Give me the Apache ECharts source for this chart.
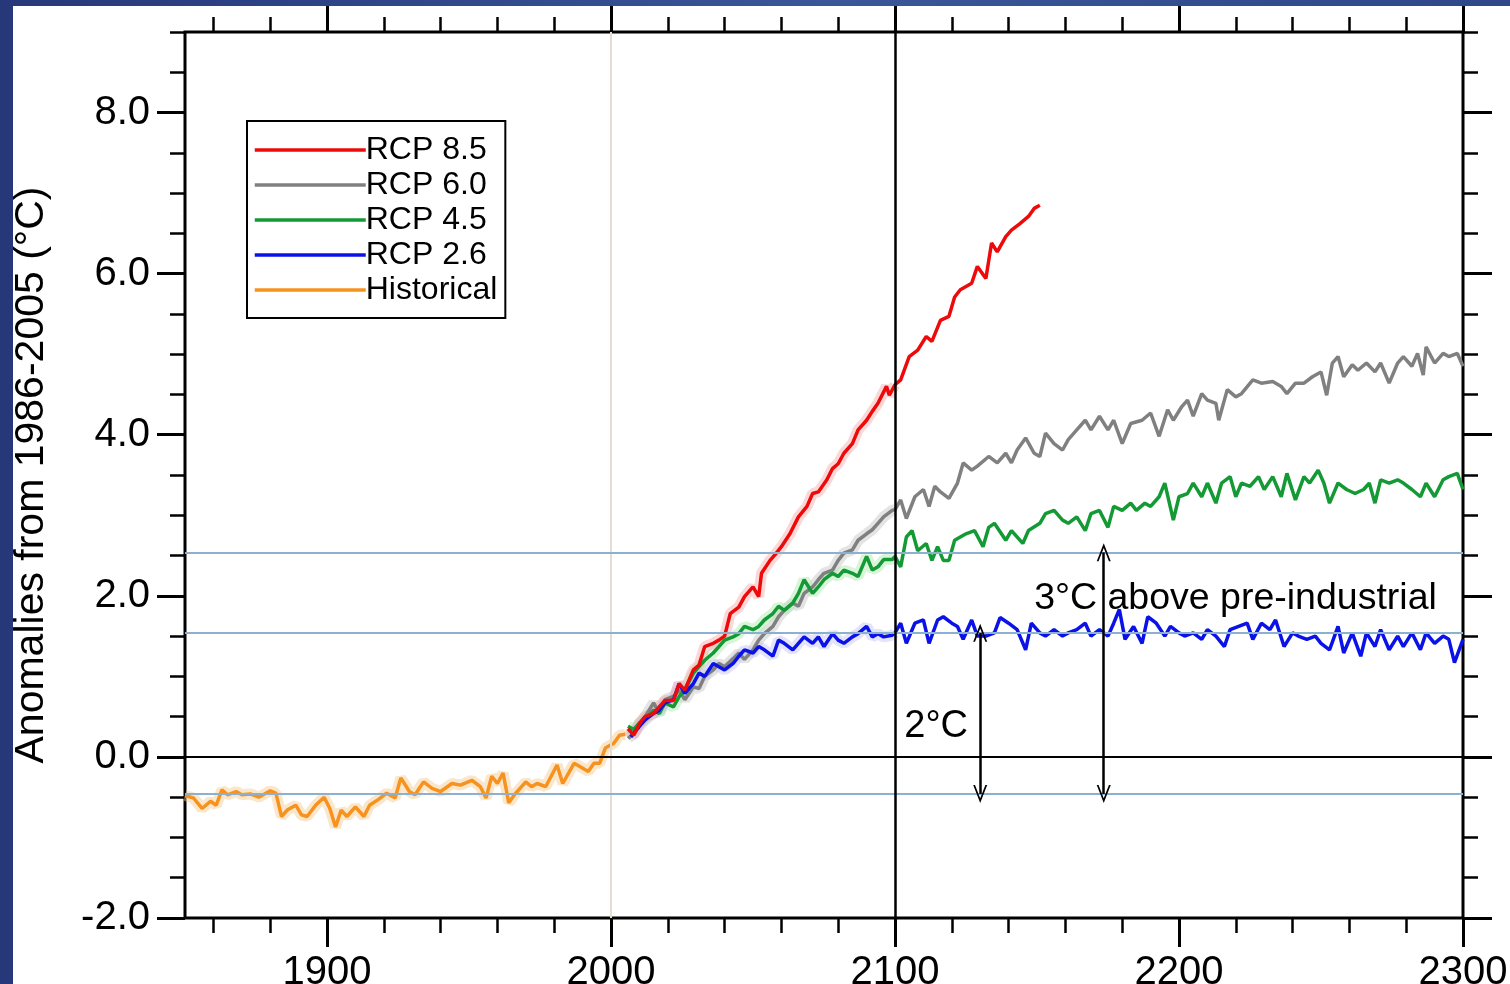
<!DOCTYPE html>
<html>
<head>
<meta charset="utf-8">
<script src="https://cdn.jsdelivr.net/npm/echarts@6.0.0/dist/echarts.min.js"></script>
<style>
    html, body {
        margin: 0; padding: 0; width: 1510px; height: 984px; overflow: hidden;
        background: linear-gradient(90deg, #26387a 0%, #3a559a 55%, #2f478a 100%);
    }
    #chart { position: absolute; left: 13px; top: 6px; width: 1497px; height: 978px; background: #fff; }
</style>
</head>
<body>
<div id="chart"></div>
<script>
// values: [year, anomaly °C]
const historical = [
    [1850,-0.48],[1853,-0.51],[1856,-0.64],[1859,-0.55],[1861,-0.60],[1863,-0.41],[1865,-0.47],[1868,-0.43],
    [1870,-0.47],[1873,-0.46],[1876,-0.50],[1880,-0.42],[1882,-0.45],[1884,-0.74],[1886,-0.66],[1889,-0.60],
    [1891,-0.72],[1893,-0.74],[1896,-0.60],[1899,-0.50],[1901,-0.64],[1903,-0.87],[1905,-0.66],[1907,-0.74],
    [1910,-0.62],[1913,-0.74],[1915,-0.60],[1918,-0.53],[1921,-0.45],[1924,-0.51],[1926,-0.26],[1929,-0.43],
    [1931,-0.47],[1934,-0.31],[1937,-0.39],[1940,-0.43],[1944,-0.33],[1947,-0.35],[1951,-0.29],[1954,-0.37],
    [1956,-0.51],[1958,-0.24],[1960,-0.33],[1962,-0.20],[1964,-0.57],[1966,-0.47],[1970,-0.31],[1972,-0.37],
    [1974,-0.33],[1977,-0.37],[1981,-0.10],[1983,-0.33],[1987,-0.08],[1989,-0.12],[1992,-0.18],[1994,-0.08],
    [1996,-0.08],[1998,0.11],[2001,0.17],[2003,0.27],[2005,0.28]
];
const rcp85 = [
    [2006,0.35],[2008,0.27],[2010,0.41],[2012,0.50],[2015,0.54],[2017,0.62],[2019,0.70],[2022,0.70],
    [2024,0.91],[2026,0.83],[2029,1.08],[2031,1.14],[2033,1.37],[2036,1.41],[2038,1.45],[2040,1.50],
    [2042,1.78],[2045,1.86],[2047,1.99],[2050,2.11],[2052,1.99],[2053,2.28],[2056,2.44],[2058,2.52],
    [2060,2.61],[2063,2.77],[2066,2.98],[2069,3.11],[2071,3.27],[2073,3.29],[2076,3.44],[2078,3.58],
    [2080,3.64],[2082,3.77],[2085,3.89],[2087,4.06],[2090,4.18],[2092,4.29],[2094,4.39],[2097,4.60],
    [2098,4.49],[2100,4.62],[2102,4.68],[2105,4.97],[2108,5.05],[2111,5.22],[2113,5.16],[2116,5.42],
    [2119,5.47],[2121,5.71],[2123,5.80],[2127,5.88],[2129,6.09],[2132,5.94],[2134,6.38],[2136,6.27],
    [2139,6.46],[2141,6.54],[2144,6.62],[2147,6.71],[2149,6.81],[2151,6.85]
];
const rcp60 = [
    [2006,0.23],[2008,0.29],[2010,0.42],[2012,0.50],[2015,0.67],[2017,0.54],[2019,0.71],[2022,0.75],
    [2024,0.83],[2026,0.71],[2029,0.87],[2031,0.85],[2033,1.00],[2036,1.08],[2038,1.16],[2040,1.12],
    [2043,1.22],[2045,1.29],[2047,1.21],[2050,1.33],[2052,1.45],[2054,1.53],[2057,1.62],[2059,1.74],
    [2061,1.82],[2064,1.91],[2066,1.87],[2068,2.03],[2071,2.11],[2073,2.20],[2075,2.28],[2078,2.32],
    [2080,2.44],[2082,2.53],[2085,2.57],[2087,2.69],[2090,2.77],[2092,2.82],[2094,2.90],[2096,2.98],
    [2099,3.06],[2100,3.07],[2102,3.19],[2104,2.96],[2107,3.23],[2110,3.32],[2112,3.11],[2114,3.36],
    [2116,3.29],[2119,3.21],[2122,3.40],[2124,3.65],[2127,3.56],[2129,3.61],[2133,3.73],[2136,3.65],
    [2139,3.77],[2141,3.65],[2143,3.81],[2146,3.96],[2149,3.77],[2151,3.73],[2153,4.02],[2156,3.89],
    [2159,3.81],[2161,3.94],[2164,4.06],[2167,4.18],[2169,4.06],[2172,4.23],[2175,4.06],[2177,4.18],
    [2180,3.89],[2183,4.14],[2187,4.18],[2190,4.27],[2193,3.98],[2196,4.31],[2198,4.18],[2201,4.35],
    [2203,4.43],[2205,4.23],[2208,4.51],[2210,4.43],[2213,4.39],[2214,4.18],[2217,4.56],[2220,4.47],
    [2222,4.51],[2226,4.68],[2229,4.64],[2233,4.66],[2236,4.60],[2238,4.51],[2241,4.64],[2244,4.64],
    [2247,4.72],[2250,4.78],[2252,4.49],[2254,4.89],[2256,4.97],[2258,4.72],[2261,4.87],[2263,4.80],
    [2266,4.89],[2269,4.78],[2271,4.89],[2274,4.64],[2277,4.89],[2279,4.97],[2282,4.85],[2284,5.01],
    [2286,4.74],[2287,5.09],[2290,4.89],[2293,5.01],[2295,4.97],[2298,5.01],[2300,4.85]
];
const rcp45 = [
    [2006,0.38],[2008,0.34],[2010,0.42],[2012,0.46],[2015,0.58],[2017,0.54],[2019,0.67],[2022,0.62],
    [2024,0.75],[2026,0.83],[2029,1.04],[2031,1.12],[2033,1.20],[2036,1.29],[2038,1.37],[2040,1.45],
    [2043,1.49],[2045,1.53],[2047,1.62],[2050,1.58],[2052,1.62],[2054,1.70],[2057,1.78],[2059,1.87],
    [2061,1.82],[2064,1.91],[2066,2.03],[2068,2.20],[2071,2.03],[2073,2.11],[2075,2.20],[2078,2.28],
    [2080,2.24],[2082,2.32],[2085,2.28],[2087,2.24],[2090,2.49],[2092,2.32],[2094,2.36],[2096,2.45],
    [2099,2.45],[2100,2.49],[2102,2.36],[2104,2.73],[2106,2.81],[2108,2.56],[2111,2.65],[2113,2.44],
    [2115,2.61],[2117,2.44],[2119,2.44],[2121,2.69],[2125,2.77],[2128,2.81],[2131,2.61],[2133,2.85],
    [2135,2.90],[2139,2.69],[2141,2.81],[2145,2.65],[2147,2.81],[2151,2.90],[2153,3.02],[2156,3.06],
    [2159,2.94],[2161,2.90],[2164,2.98],[2167,2.81],[2169,3.02],[2172,3.06],[2175,2.85],[2177,3.11],
    [2180,3.06],[2183,3.15],[2185,3.06],[2188,3.15],[2190,3.11],[2193,3.23],[2195,3.40],[2198,2.94],
    [2200,3.23],[2203,3.27],[2205,3.40],[2208,3.23],[2210,3.40],[2213,3.15],[2215,3.40],[2218,3.48],
    [2220,3.23],[2222,3.40],[2225,3.36],[2228,3.48],[2230,3.32],[2233,3.48],[2236,3.23],[2238,3.52],
    [2241,3.19],[2244,3.48],[2246,3.40],[2249,3.56],[2251,3.40],[2253,3.15],[2256,3.40],[2259,3.32],
    [2262,3.27],[2265,3.32],[2267,3.40],[2269,3.15],[2271,3.44],[2274,3.40],[2277,3.44],[2279,3.40],
    [2282,3.32],[2285,3.23],[2287,3.40],[2290,3.23],[2293,3.44],[2295,3.48],[2298,3.52],[2300,3.32]
];
const rcp26 = [
    [2007,0.25],[2010,0.38],[2012,0.46],[2015,0.54],[2017,0.58],[2019,0.67],[2022,0.71],[2024,0.91],
    [2026,0.79],[2029,0.91],[2031,1.04],[2033,1.00],[2036,1.16],[2038,1.12],[2040,1.08],[2043,1.16],
    [2045,1.25],[2047,1.33],[2050,1.29],[2052,1.37],[2054,1.33],[2057,1.25],[2059,1.45],[2061,1.41],
    [2064,1.33],[2066,1.41],[2068,1.49],[2071,1.41],[2073,1.49],[2075,1.37],[2078,1.53],[2080,1.45],
    [2082,1.41],[2085,1.49],[2087,1.53],[2090,1.62],[2092,1.49],[2094,1.53],[2096,1.49],[2099,1.51],
    [2100,1.54],[2102,1.66],[2104,1.41],[2107,1.66],[2110,1.70],[2112,1.41],[2115,1.70],[2117,1.74],
    [2120,1.66],[2122,1.62],[2124,1.46],[2127,1.70],[2129,1.50],[2132,1.50],[2135,1.54],[2137,1.73],
    [2140,1.66],[2143,1.58],[2146,1.33],[2148,1.66],[2151,1.54],[2153,1.50],[2156,1.58],[2159,1.50],
    [2161,1.54],[2164,1.58],[2167,1.66],[2169,1.50],[2172,1.58],[2175,1.50],[2177,1.66],[2179,1.83],
    [2181,1.46],[2184,1.62],[2187,1.41],[2189,1.74],[2192,1.66],[2195,1.50],[2197,1.62],[2200,1.54],
    [2202,1.50],[2205,1.54],[2208,1.46],[2210,1.58],[2213,1.50],[2216,1.37],[2218,1.58],[2221,1.62],
    [2224,1.66],[2226,1.46],[2229,1.66],[2232,1.58],[2234,1.70],[2237,1.37],[2240,1.54],[2242,1.50],
    [2245,1.46],[2248,1.50],[2250,1.41],[2253,1.33],[2256,1.62],[2258,1.29],[2261,1.54],[2264,1.25],
    [2266,1.54],[2269,1.37],[2271,1.58],[2274,1.33],[2277,1.50],[2279,1.37],[2282,1.54],[2285,1.33],
    [2287,1.54],[2290,1.41],[2293,1.50],[2295,1.46],[2297,1.17],[2300,1.46]
];

// axis ticks
const xMajor = [1900, 2000, 2100, 2200, 2300];
const xMinor = [1860, 1880, 1920, 1940, 1960, 1980, 2020, 2040, 2060, 2080,
                2120, 2140, 2160, 2180, 2220, 2240, 2260, 2280];
const yMajor = [-2, 0, 2, 4, 6, 8];
const yMinor = [-1.5, -1, -0.5, 0.5, 1, 1.5, 2.5, 3, 3.5, 4.5, 5, 5.5, 6.5, 7, 7.5, 8.5, 9];

// reference levels (pre-industrial, +2 °C, +3 °C)
const preIndustrial = -0.46;
const plus2 = 1.54;
const plus3 = 2.54;

const FONT = "'Liberation Sans', Arial, Helvetica, sans-serif";

let chart = echarts.init(document.getElementById('chart'));

function axis(pos, grid, major, ticks, len, labels, isX) {
    let a = {
        type: 'value',
        gridIndex: grid,
        position: pos,
        min: isX ? 1850 : -2,
        max: isX ? 2300 : 9,
        axisLine: {show: false, onZero: false},
        splitLine: {show: false},
        axisTick: {
            show: true, inside: false, length: len, customValues: ticks,
            lineStyle: {color: '#000', width: major ? 3 : 2.5}
        },
        axisLabel: {show: false}
    };
    if (labels) {
        a.axisLabel = {
            show: true,
            customValues: ticks,
            color: '#000',
            fontSize: 40,
            fontFamily: FONT,
            margin: 35,
            formatter: isX ? function (v) { return String(v); } : function (v) { return v.toFixed(1); }
        };
    }
    return a;
}

function upTo2100(d) {
    return d.filter(function (p) { return p[0] <= 2100; });
}

function band(name, data, color) {
    return {
        name: name, type: 'line', data: data, symbol: 'none', silent: true, z: 1,
        xAxisIndex: 0, yAxisIndex: 0,
        lineStyle: {color: color, width: 11, opacity: 0.45}
    };
}

function main(name, data, color, z) {
    return {
        name: name, type: 'line', data: data, symbol: 'none', z: z,
        xAxisIndex: 0, yAxisIndex: 0,
        itemStyle: {color: color},
        lineStyle: {color: color, width: 3.5}
    };
}

let blueLine = {color: '#8bb0d0', width: 2, type: 'solid'};
let arrowSym = 'path://M0,0L7,16L5.2,16L0,4.2L-5.2,16L-7,16Z';

let option = {
    animation: false,
    grid: [
        {left: 172, right: 47, top: 26, bottom: 66, outerBoundsMode: 'none',
         show: true, borderColor: '#000', borderWidth: 3, backgroundColor: 'transparent'},
        {left: 172, right: 47, top: 26, bottom: 66, outerBoundsMode: 'none', show: false}
    ],
    xAxis: [
        axis('bottom', 0, true, xMajor, 29, true, true),
        axis('top', 0, true, xMajor, 27, false, true),
        axis('bottom', 1, false, xMinor, 15, false, true),
        axis('top', 1, false, xMinor, 15, false, true)
    ],
    yAxis: [
        axis('left', 0, true, yMajor, 28, true, false),
        axis('right', 0, true, yMajor, 29, false, false),
        axis('left', 1, false, yMinor, 15, false, false),
        axis('right', 1, false, yMinor, 15, false, false)
    ],
    legend: {
        data: ['RCP 8.5', 'RCP 6.0', 'RCP 4.5', 'RCP 2.6', 'Historical'],
        orient: 'vertical',
        left: 234,
        top: 115,
        itemWidth: 111,
        itemHeight: 31,
        itemGap: 3,
        padding: [13, 8, 12, 6],
        backgroundColor: '#fff',
        borderColor: '#000',
        borderWidth: 2,
        selectedMode: false,
        itemStyle: {opacity: 0},
        lineStyle: {width: 3.5},
        textStyle: {color: '#000', fontSize: 32, fontFamily: FONT, padding: [0, 0, 0, -5]}
    },
    series: [
        {
            name: 'refLines', type: 'line', data: [], z: 0, silent: true,
            xAxisIndex: 0, yAxisIndex: 0,
            markLine: {
                silent: true, symbol: 'none', animation: false, label: {show: false},
                data: [
                    {xAxis: 2000, lineStyle: {color: '#e6dcd2', width: 2, type: 'solid'}},
                    {yAxis: 0, lineStyle: {color: '#000', width: 2, type: 'solid'}},
                    {yAxis: preIndustrial, lineStyle: blueLine},
                    {yAxis: plus2, lineStyle: blueLine},
                    {yAxis: plus3, lineStyle: blueLine}
                ]
            }
        },
        band('bHist', historical, '#f3c98c'),
        band('b60', upTo2100(rcp60), '#c4c4c4'),
        band('b45', upTo2100(rcp45), '#a8e8ab'),
        band('b26', upTo2100(rcp26), '#c2c4f4'),
        band('b85', upTo2100(rcp85), '#f7a9a9'),
        main('RCP 6.0', rcp60, '#808080', 3),
        main('RCP 4.5', rcp45, '#149a34', 3),
        main('RCP 2.6', rcp26, '#0a12e8', 3),
        main('RCP 8.5', rcp85, '#ee0a0a', 4),
        main('Historical', historical, '#f7921e', 4),
        {
            name: 'annot', type: 'line', data: [], z: 6, silent: true,
            xAxisIndex: 0, yAxisIndex: 0,
            markLine: {
                silent: true, animation: false, label: {show: false},
                symbol: 'none',
                data: [
                    [{coord: [2100, -2]}, {coord: [2100, 9]}],
                    [{coord: [2130, preIndustrial], symbol: arrowSym, symbolSize: [14, 18]},
                     {coord: [2130, plus2], symbol: arrowSym, symbolSize: [14, 18]}],
                    [{coord: [2173.5, preIndustrial], symbol: arrowSym, symbolSize: [14, 18]},
                     {coord: [2173.5, plus3], symbol: arrowSym, symbolSize: [14, 18]}]
                ],
                lineStyle: {color: '#000', width: 2.5, type: 'solid'}
            }
        }
    ]
};
chart.setOption(option);

// annotation texts placed through the axes
let p2 = chart.convertToPixel({gridIndex: 0}, [2114.5, 0.38]);
let p3 = chart.convertToPixel({gridIndex: 0}, [2149, 1.96]);
chart.setOption({
    graphic: [
        {
            type: 'text', x: 19, y: 469, rotation: Math.PI / 2, z: 10,
            style: {
                text: 'Anomalies from 1986-2005 (°C)', fill: '#000', font: '41px ' + FONT,
                align: 'center', verticalAlign: 'middle'
            }
        },
        {
            type: 'text', x: p2[0], y: p2[1], z: 10,
            style: {text: '2°C', fill: '#000', font: '38px ' + FONT, align: 'center', verticalAlign: 'middle'}
        },
        {
            type: 'text', x: p3[0], y: p3[1], z: 10,
            style: {text: '3°C above pre-industrial', fill: '#000', font: '37.5px ' + FONT, align: 'left', verticalAlign: 'middle'}
        }
    ]
});
window.addEventListener('resize', function () { chart.resize(); });
</script>
</body>
</html>
